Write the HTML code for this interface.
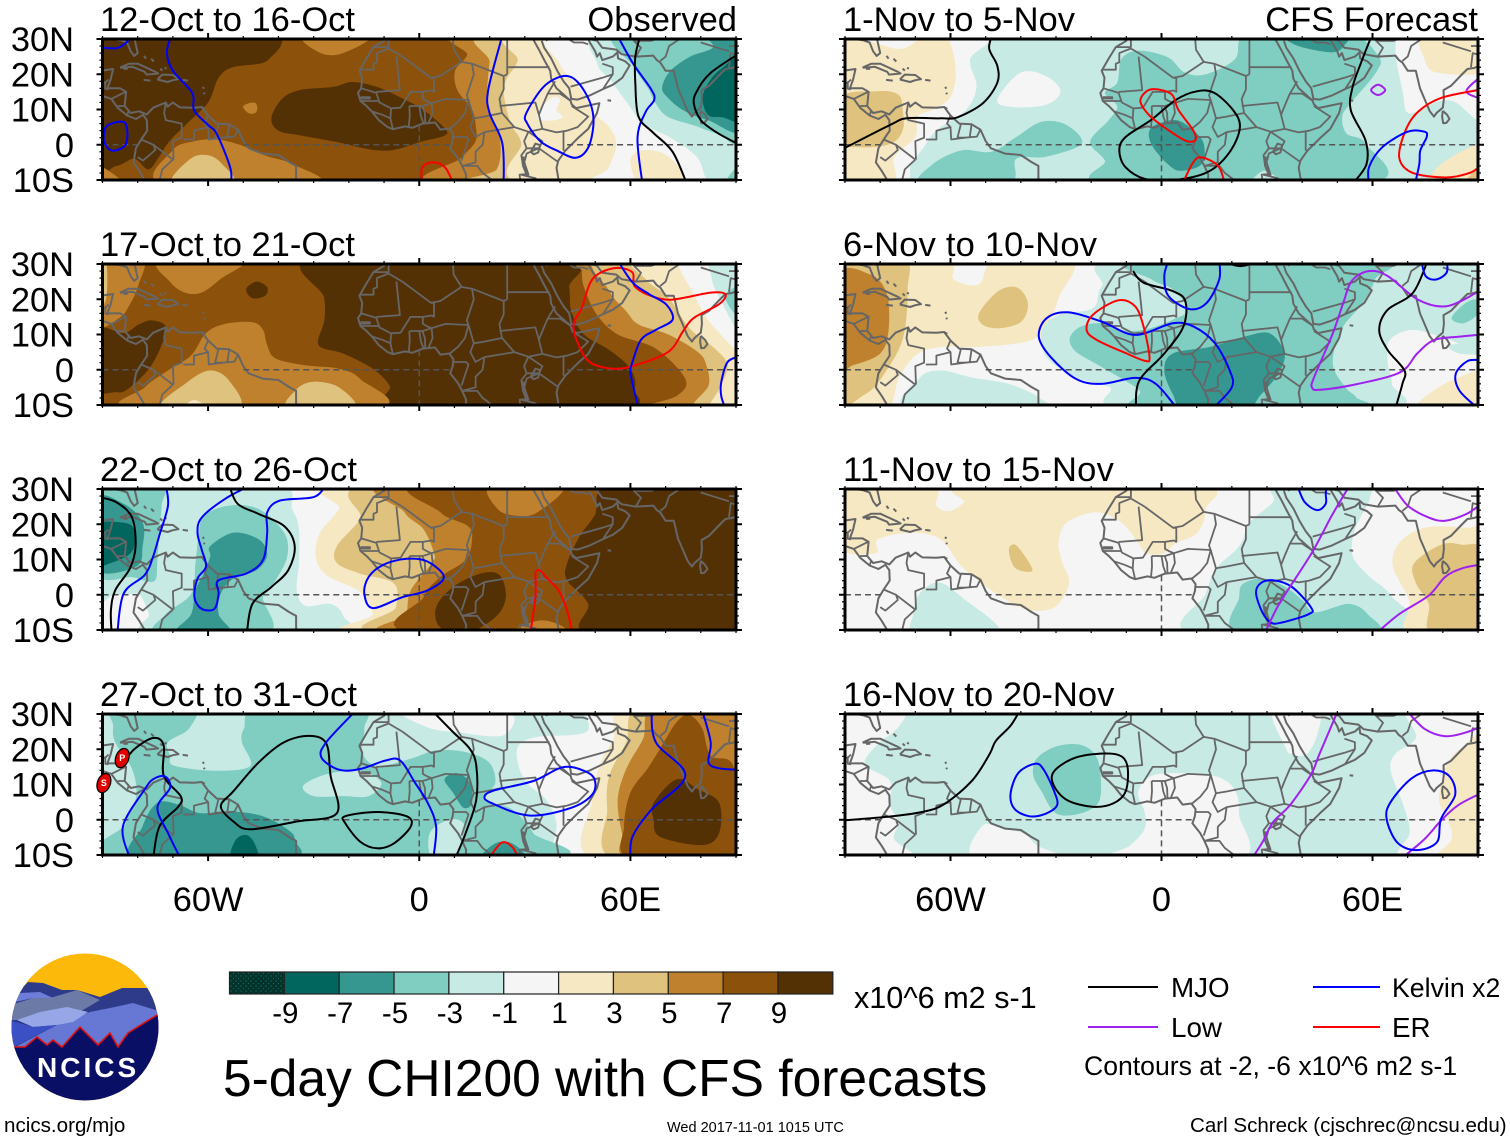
<!DOCTYPE html>
<html lang="en">
<head>
<meta charset="utf-8">
<title>5-day CHI200 with CFS forecasts</title>
<style>
html,body{margin:0;padding:0;background:#fff}
svg{display:block}
text{font-family:"Liberation Sans",sans-serif;fill:#000}
</style>
</head>
<body>
<svg id="chart" xmlns="http://www.w3.org/2000/svg" width="1510" height="1142" viewBox="0 0 1510 1142">
<defs>
<pattern id="stipple" width="5" height="5" patternUnits="userSpaceOnUse"><rect width="5" height="5" fill="#01332b"/><circle cx="1" cy="1" r="0.6" fill="#1c7f70"/><circle cx="3.5" cy="3.5" r="0.5" fill="#1c7f70"/></pattern>
<clipPath id="logo-clip"><circle cx="85" cy="1027" r="73.5"/></clipPath>
</defs>
<rect width="1510" height="1142" fill="#fff"/>
<g id="panels"></g>
<g id="colorbar"></g>
<text x="854" y="1008" font-size="30.6">x10^6 m2 s-1</text>
<text x="223" y="1096" font-size="51.5">5-day CHI200 with CFS forecasts</text>
<g id="legend"></g>
<text x="1084" y="1075" font-size="26.6">Contours at -2, -6 x10^6 m2 s-1</text>
<text x="4" y="1132" font-size="20.6">ncics.org/mjo</text>
<text x="667" y="1132" font-size="14.5">Wed 2017-11-01 1015 UTC</text>
<text x="1190" y="1132" font-size="20.55">Carl Schreck (cjschrec@ncsu.edu)</text>
<g clip-path="url(#logo-clip)">
<rect x="10" y="950" width="150" height="155" fill="#fdb90a"/>
<polygon fill="#2e3a8a" points="28,982 43,983 62,990 77,990 100,997 122,988 148,988 162,1007 162,1080 8,1080 8,1007 18,992"/>
<polygon fill="#6b7aa6" points="11,1005 33,998 50,998 77,990 100,1000 83,1010 50,1020 8,1020"/>
<polygon fill="#6d7dd8" points="20,993 40,992 53,998 33,998 15,1002"/>
<polygon fill="#6677d4" points="15,1047 57,1025 90,1012 110,1008 133,1003 162,1012 162,1060 15,1060"/>
<polygon fill="#97a6e6" points="17,1020 40,1012 67,1007 88,1012 73,1022 57,1025 33,1027"/>
<polygon fill="#3b50c4" points="8,1020 33,1027 57,1025 37,1035 13,1047 8,1040"/>
<polygon fill="#0a0f66" stroke="#e01010" stroke-width="1.6" points="5,1047 13,1047 25,1047 37,1037 47,1045 53,1040 62,1047 80,1027 98,1045 110,1033 118,1047 128,1033 157,1015 170,1005 170,1110 5,1110"/>
<text x="37" y="1077" font-size="28" font-weight="bold" letter-spacing="3" style="fill:#fff">NCICS</text>
</g>
</svg>
<script>
const levelColors = ['#01332b','#01665e','#35978f','#80cdc1','#c7eae5','#f5f5f5','#f6e8c3','#dfc27d','#bf812d','#8c510a','#543005'];
const colorbarLabels = ['-9','-7','-5','-3','-1','1','3','5','7','9'];
const panelTitles = ['12-Oct to 16-Oct','17-Oct to 21-Oct','22-Oct to 26-Oct','27-Oct to 31-Oct','1-Nov to 5-Nov','6-Nov to 10-Nov','11-Nov to 15-Nov','16-Nov to 20-Nov'];
const latTicks = [30,20,10,0,-10];
const latTickLabels = ['30N','20N','10N','0','10S'];
const lonTicks = [-60,0,60];
const lonTickLabels = ['60W','0','60E'];
const baseLevels = [9,9,5,4,4,5,5,4];
const legendNames = ['MJO','Kelvin x2','Low','ER'];
const waveColors = {M:'#000000',K:'#0000ff',L:'#a020f0',E:'#ff0000'};
const stormMarks = [['P',-84.4,17.5],['S',-89.6,10.4]];

/* Filled contours: [level, [[lon,lat],...]] */
const fillsP1 = [
[10,[[-92,32],[-43,32],[-43,24],[-53,22],[-57,19],[-60,12],[-66,6],[-71,1],[-74,-3.5],[-77,-7],[-81,-4],[-86,-6],[-92,-5]]],
[10,[[-42,7.6],[-39,13],[-34,15.5],[-24.5,16.4],[-19,17.8],[-12,16.4],[-5.5,13.5],[1,10],[7.4,4.5],[7,2.5],[1,1],[-10,-1.7],[-24.5,1],[-34,2.7],[-40,4]]],
[8,[[-73,-11],[-70,-1.5],[-64,1],[-57.5,1.5],[-51,0],[-44,-3],[-36,-5.5],[-29.5,-11]]],
[7,[[-70,-11],[-65,-4],[-60,-3],[-56,-5.5],[-53,-11]]],
[8,[[-33,31],[-28,26],[-21.6,26],[-14,31]]],
[8,[[-50,11],[-47,12],[-46,10.7],[-46.6,9],[-48.6,9]]],
[8,[[-91,-6],[-84,-11],[-91,-11]]],
[8,[[14,32],[13.6,25.5],[10.2,21],[10.8,15.5],[15,10],[16,5.6],[16,1],[12,-3.7],[6,-11],[92,-11],[92,32]]],
[7,[[21,32],[20,23.5],[19.3,15],[20,9.5],[23,1],[22,-7],[16,-11],[92,-11],[92,32]]],
[6,[[28,32],[28,24],[25,19],[24,14.7],[26,6],[29,0.4],[29.5,-11],[92,-11],[92,32]]],
[5,[[39,32],[40,23],[43,19],[47,14],[49.5,9],[54,5],[56,0],[53.7,-6.7],[50.6,-11],[92,-11],[92,32]]],
[5,[[33.5,8.5],[34.4,10.4],[38,13.5],[40,12.7],[39,9.8],[40.7,8],[38.7,7],[34.4,7]]],
[6,[[60,-4.5],[63,-1.7],[69,-2.3],[74,-6.6],[75,-11],[63,-11]]],
[4,[[51.5,32],[50.6,23],[54.3,18.4],[59,12],[63.7,6],[71.4,2],[79,-3.6],[82.7,-11],[92,-11],[92,32]]],
[3,[[56,32],[61,22],[65,16],[67,12],[70.5,8],[78,5.5],[85,3],[93,1],[93,32]]],
[3,[[87,-11],[91,-6],[93,-11]]],
[2,[[81,32],[83.5,27.7],[77,25],[71.4,21],[69,16.3],[70.5,13.5],[75,9.8],[82,7],[93,4.7],[93,32]]],
[1,[[93,26],[86.4,22],[82.7,18.4],[80.5,13.5],[82,8.5],[86,7.8],[93,7.5]]]
];
const linesP1 = [
['K',0,[[-91,27.7],[-86,27.4],[-83,29.2],[-82,30.5]]],
['K',0,[[-70.5,31],[-71.7,26],[-70,21],[-64.5,14.7],[-64,9.8],[-60,5.6],[-57.5,3],[-53.7,-6.5],[-53.5,-11]]],
['K',1,[[-88.4,5.6],[-83.6,6.2],[-83.3,0.3],[-87,-1.7],[-89.3,0.3],[-89.6,3]]],
['K',0,[[23.6,31],[19.6,15.5],[20,9],[23.6,0.4],[24,-11]]],
['K',1,[[41,19.5],[45,17.8],[48.6,11.8],[49.5,6],[48,-0.8],[44.4,-3.7],[39.2,-1.7],[34.4,1],[30.7,6],[30.4,8.9],[35.3,16.4]]],
['K',0,[[56.3,31],[60.8,23],[65.7,16],[66.8,12.8],[64.3,9.3],[62,2],[63.4,-11]]],
['M',0,[[62.8,31],[61.4,25],[61.4,17.5],[62.3,8],[66.5,3.4],[72,-2],[76,-11]]],
['M',0,[[91,26],[82.7,20.3],[79,15.4],[78,11.8],[80,7],[84.7,3.4],[91,0]]],
['E',0,[[0.8,-11],[0.8,-6.5],[4,-5],[7.4,-6.5],[9.7,-11]]]
];
const fillsP2 = [
[10,[[-29.4,32],[-27,20.5],[-27,13.8],[-28.6,7],[-21.6,4.6],[-13.2,0.3],[-8.4,-4.5],[-5.4,-11],[56.4,-11],[61.2,-5.5],[60,0.3],[54,5.6],[46.8,10],[43.2,16.6],[42.6,23.4],[40.8,32]]],
[10,[[-92,11.3],[-84,10.4],[-79.8,12.8],[-76,14],[-72,12.3],[-73.2,7],[-76.8,0.3],[-82.8,-5.5],[-86.4,-6.4],[-92,-5]]],
[10,[[-49.2,22.9],[-46.2,25],[-43.2,23.4],[-43.8,21],[-47.4,20.3]]],
[8,[[-73.8,31],[-70.8,24.9],[-66.6,21.9],[-61.8,21.9],[-56.4,25.8],[-50.4,31]]],
[8,[[-92,32],[-78.6,32],[-79.8,24],[-82.2,18.6],[-85.2,14.7],[-92,12.8]]],
[7,[[-92,32],[-89,31],[-89,20],[-92,18]]],
[8,[[-81,-11],[-78,-5],[-71.4,-0.2],[-64.8,4.1],[-60.6,10.4],[-55.2,13],[-47.4,13.5],[-44.4,11.3],[-43.2,7],[-40.8,3.2],[-32.4,1.25],[-22.8,0.3],[-16.8,-2.6],[-12.6,-11]]],
[7,[[-73.2,-11],[-66,-3.6],[-59.4,-0.2],[-54,-3.1],[-51.6,-11]]],
[7,[[-37.2,-11],[-34.8,-5.5],[-30,-3.4],[-22.8,-5],[-18.6,-11]]],
[6,[[-67,-11],[-64,-8.6],[-60,-11]]],
[8,[[46.2,32],[46.2,28],[46.8,23.4],[50.4,15.7],[56.4,10],[67.2,6],[75.6,-2.6],[73.2,-7.4],[64.2,-11],[93,-11],[93,32]]],
[7,[[51.6,32],[54,22.4],[58.8,16.6],[62.4,12.8],[70.8,10],[79.2,5],[81.6,1.2],[82.2,-4.5],[78,-11],[93,-11],[93,32]]],
[6,[[61.2,32],[64.8,25.3],[70.8,20.5],[76.8,11.8],[84,6],[87.6,1.2],[85.2,-5.5],[82.8,-11],[93,-11],[93,32]]],
[5,[[74.4,32],[78,21.4],[84,11.8],[93,6],[93,32]]],
[4,[[82.8,32],[82.8,27.2],[85.2,20.5],[93,9],[93,32]]],
[3,[[93,24],[87,20.5],[93,13]]]
];
const linesP2 = [
['E',1,[[56.4,28.9],[60.6,27.6],[61.2,23.7],[66,20.9],[72,19.9],[82.8,21.9],[87,21.4],[85.2,18.6],[78,14.7],[75,11],[70.8,5.1],[61.2,1.2],[55.2,0.3],[49.2,1.7],[46.2,5.1],[43.8,12.3],[46.2,17.6],[48.6,24.7],[51.6,27.6]]],
['K',0,[[56.4,31],[60.6,24.8],[65.4,21.4],[70.2,18.5],[72,14.2],[67.2,11.3],[63,8.5],[60.6,2.2],[60,-0.7],[61.2,-6.4],[62.4,-11]]],
['K',0,[[91,3.7],[87.6,2.2],[85.8,-3.6],[85.8,-7.4],[87,-11]]]
];
const fillsP3 = [
[4,[[-92,32],[-42,32],[-36,24],[-34.2,18.6],[-34.2,9],[-34.8,1.2],[-32.4,-3.1],[-25.2,-2.6],[-21.6,-6],[-23.4,-11],[-75.6,-11],[-76.8,-5.5],[-79.2,-0.2],[-81.6,0.3],[-87,-0.2],[-92,-0.2]]],
[3,[[-92,32],[-73.2,32],[-73.2,25.3],[-73.8,18.6],[-74.4,10],[-75,4.1],[-78.6,4.1],[-81.6,5],[-92,6.5]]],
[2,[[-92,27],[-84,25.8],[-78.6,20.5],[-78.6,13.8],[-80.4,8],[-92,7.5]]],
[1,[[-92,19.5],[-84.6,20.5],[-81,18.6],[-81.6,12.3],[-87.6,9],[-92,9]]],
[3,[[-61.2,22.4],[-54,25.3],[-45.6,24.3],[-38.4,17.6],[-37.5,10.9],[-40.8,4.1],[-44.4,-0.7],[-43.2,-11],[-73.8,-11],[-72,-5.5],[-64.8,0.3],[-63.6,8.9],[-62.7,16.6]]],
[2,[[-59.4,13.8],[-52.8,17.6],[-45.6,15.7],[-43.2,11.3],[-46.2,7],[-52.8,4.6],[-56.4,0.3],[-57,-5.5],[-54,-11],[-69,-11],[-64.8,-5.5],[-63.6,1.25],[-61.2,6],[-59.4,10.9]]],
[6,[[-19.8,32],[-22.8,24.3],[-28.2,17.6],[-29.4,10.9],[-26.4,5.6],[-16.8,0.8],[-13.2,-5.5],[-15.6,-11],[93,-11],[93,32]]],
[7,[[-10.8,32],[-16.8,21.4],[-23.4,13.8],[-23.4,9],[-16.8,6],[-7.2,3.2],[-6.6,-3.6],[-9.6,-11],[93,-11],[93,32]]],
[8,[[-6,32],[-4.2,23.4],[1.2,18.6],[4.2,11.8],[3.6,9],[-2.4,1.25],[-3.6,-5.5],[-5.4,-11],[93,-11],[93,32]]],
[9,[[2.4,32],[6,23.4],[13.8,19.5],[15,15.7],[13.2,9.9],[6,5],[1.2,-0.7],[-0.6,-11],[93,-11],[93,32]]],
[8,[[20.4,31],[22.2,24.4],[27.6,22.4],[33.6,23.4],[40.8,31]]],
[8,[[26.4,-11],[33.6,-7.4],[39.6,-8.4],[41.4,-11]]],
[10,[[55.2,32],[49.8,22.4],[45.6,16.6],[42,8.9],[42,4.1],[48,-2.6],[48,-11],[87,-11],[92,-7],[93,32]]],
[10,[[4.8,-3.6],[9.6,2.2],[17.4,6],[22.8,5.6],[24.6,-0.7],[21.6,-6.4],[13.2,-11],[6,-9.3]]]
];
const linesP3 = [
['M',0,[[-91,27.7],[-86,26.2],[-81.6,21.9],[-80.6,13.8],[-82.2,7.5],[-86.4,1.25],[-87.6,-4.5],[-87.4,-11]]],
['K',0,[[-72,31],[-71.4,25.3],[-73.8,17],[-75.6,10.9],[-78,5.6],[-84,0.3],[-85.8,-11]]],
['K',0,[[-48,31],[-55.2,27.2],[-61.8,21.9],[-63,17.6],[-61.8,12.8],[-60.6,8],[-63,4.6],[-63.9,-0.7],[-61.8,-4],[-58.2,-4],[-57,0.3],[-57,4.1],[-49.2,6],[-44.4,9.9],[-43.2,17.6],[-43.2,23.4],[-39.6,26.7],[-30,27.7],[-26.6,31]]],
['M',0,[[-54,31],[-51.6,25.8],[-45.6,22.9],[-38.4,19.5],[-35.4,13.8],[-37.2,7],[-42,2.2],[-47.4,-2.6],[-49,-11]]],
['K',1,[[-14.4,5],[-10.2,8.5],[-3.6,10.2],[2.4,9.4],[7,5],[2.4,1.25],[-4.8,-0.7],[-13.2,-3.8],[-15.6,0.3]]],
['E',0,[[33,6.5],[34.2,7],[36,5],[39.6,1.25],[42,-4.5],[43.5,-11]]],
['E',0,[[33,6.5],[33,-0.7],[31.8,-9.3],[31.6,-11]]]
];
const fillsP4 = [
[5,[[-4.2,31],[2.4,26.2],[10.8,24.8],[24,24],[24.6,31]]],
[5,[[48,32],[47.4,24.9],[33.6,23.5],[28.2,21],[28.2,15.3],[31,10],[36,5.75],[39,-1],[38.4,-11],[50,-11],[60,32]]],
[3,[[-86.4,32],[-64.8,32],[-65.4,25.9],[-71.4,22],[-70.8,18.2],[-69.6,15.3],[-57.6,13.9],[-48,15.3],[-50.4,22],[-49.8,25.9],[-45.6,32],[-16.8,32],[-15.6,25.9],[-16.2,19.2],[-12,15.3],[-2.4,17.3],[4.8,19.7],[13.2,19.2],[19.8,16.3],[21.6,10.5],[18.6,5.75],[26.4,2.9],[32.4,-3.8],[34.8,-11],[-82.8,-11],[-83.4,-1],[-80.4,6.7],[-81.6,14.4],[-86.4,22],[-87,26.8]]],
[4,[[-33,9.6],[-26.4,12.9],[-16.8,13.9],[-10.8,10.5],[-14.4,6.7],[-21.6,6.7],[-30,6.7]]],
[4,[[3,-3.8],[8.4,0],[12.6,-1],[12,-5.8],[9.6,-11],[3.6,-11]]],
[2,[[-79.8,-11],[-78.6,-1.9],[-74.4,4.8],[-68.4,4.3],[-62.4,1.9],[-54,2.4],[-44.4,1],[-37.2,-2.9],[-35.4,-5.8],[-37.2,-11]]],
[1,[[-53.4,-11],[-52.2,-5.8],[-49.2,-4.3],[-46.8,-6.7],[-46.2,-11]]],
[2,[[7.2,11.5],[10.8,13.2],[14.4,10.5],[15,4.8],[12.6,3.4],[9.6,7.7]]],
[2,[[18,-11],[21.6,-6.7],[26.4,-6.7],[30,-11]]],
[6,[[58.8,32],[55.2,23],[51.6,16.3],[49.2,5.75],[49.2,-11],[93,-11],[93,32]]],
[7,[[63,32],[58.8,22],[54,12.5],[53.4,2.9],[55.2,-11],[93,-11],[93,32]]],
[8,[[67.2,32],[63.6,23],[58.8,14.4],[56.4,5.75],[57.6,-3.8],[60,-11],[93,-11],[93,32]]],
[9,[[68.4,20.1],[73.2,27.8],[76.8,29.7],[80.4,25.9],[82.8,18.2],[89.5,14.4],[89.5,-11],[60,-11],[58.2,-1.9],[60,7.7],[64.8,14.4]]],
[10,[[66.6,4.8],[73.2,11.5],[79.2,8.6],[85.2,4.8],[85.2,-3.8],[80.4,-7.2],[68.4,-4.8],[66.6,0]]]
];
const linesP4 = [
['M',0,[[-84.6,15.3],[-81,20],[-75.6,23.2],[-72.6,21.1],[-72.6,12.5],[-67.8,6.7],[-68.4,3.8],[-73.8,-1.9],[-75.6,-11]]],
['M',1,[[-31.2,23.8],[-26.4,21.6],[-25.2,12.5],[-23.4,1.9],[-34.8,-0.5],[-48,-2.7],[-52.8,-0.5],[-56.4,3.8],[-52.8,8.1],[-45.6,16.3],[-38.4,22]]],
['M',1,[[-21,1],[-12,2.2],[-3.6,1],[-2.4,-1.9],[-7.2,-6.7],[-12,-8.1],[-16.8,-6.2],[-21,-1]]],
['M',0,[[3.6,31],[9.6,24.9],[14.4,20.1],[16.2,15.3],[16.2,5.75],[13.2,-3.8],[10.2,-11]]],
['K',0,[[-18,31],[-26.4,22],[-27.8,17.7],[-22.8,14.2],[-16.8,14.4],[-9.6,16.8],[-5.4,16.8],[-1.2,10.5],[2.4,4.8],[4.8,-1.9],[4,-11]]],
['K',0,[[-82.2,-11],[-84.2,-1.9],[-78,8.6],[-75.6,11.5],[-72.3,12.3],[-70.8,9.1],[-74.4,3.4],[-71.4,-3.8],[-67.8,-11]]],
['K',1,[[18.6,6.7],[21.6,8.4],[32.4,11],[40.8,14.9],[46.8,13.9],[49.8,11.5],[49.2,7.2],[43.2,3.4],[31.2,1.2],[20.4,4.8]]],
['K',0,[[66,31],[67.2,22],[75.6,12.5],[66,2.9],[60.6,-4.8],[60,-11]]],
['K',0,[[80.4,31],[82.8,22],[82.2,16.3],[85.2,14.6],[91,14.2]]],
['E',0,[[19.8,-11],[23.4,-6.5],[26.4,-7.7],[28.2,-11]]]
];
const fillsP5 = [
[5,[[-49.6,32],[-54.4,24.3],[-52.6,16.6],[-55.6,9.9],[-64,4.1],[-67.6,-0.7],[-71.2,-5.5],[-73.6,-11],[-92,-11],[-92,32]]],
[5,[[-46.7,12.8],[-40,20.5],[-32.9,19.5],[-28.7,15.2],[-32.9,11.3],[-42.5,10.7]]],
[6,[[-92,27.5],[-74.2,27.2],[-67.6,31],[-61.4,31],[-58.6,22.4],[-59.8,13.8],[-65.2,9.9],[-69.4,8],[-70,2.2],[-76,-3.6],[-76.5,-11],[-92,-11]]],
[7,[[-92,13.3],[-80.7,15.2],[-74.8,14.2],[-73.6,9.9],[-73.6,4.1],[-77,0.3],[-85.5,-0.7],[-92,1.25]]],
[3,[[-12.6,17.6],[-11.4,24.3],[-6.6,26.7],[1.8,24.8],[6.6,20.5],[12.6,20],[20.9,24.3],[25.1,32],[52,32],[61.6,25.3],[61,20.5],[53.8,11.8],[51.4,8],[52.6,3.2],[58,0.3],[59.2,-11],[-15,-11],[-16.1,-4.5],[-20.3,0.8],[-15,7],[-12.6,10.9],[-16.1,14.7]]],
[4,[[25.7,-11],[29.3,-7.4],[34,-11]]],
[2,[[-3.6,3.2],[-1.8,5.6],[4.2,7],[9,4.1],[12,0.3],[11.4,-5.5],[5.4,-7.4],[1.8,-5.5],[-2.4,-0.7]]],
[2,[[36.5,31],[38.3,28.2],[48.4,26.2],[52,28.2],[52,31]]],
[3,[[-68,-11],[-65,-5.5],[-56.8,-1.6],[-48.4,-2],[-41.3,2.2],[-34.1,6.5],[-27,5.6],[-22.7,0.3],[-32.9,-3.4],[-41.3,-4],[-43.7,-11]]],
[5,[[68.2,32],[68.8,13.8],[70.6,8.9],[77.2,11.8],[83.1,12.3],[92,7.5],[92,32]]],
[6,[[74.2,32],[74.8,24.3],[78.3,20.5],[92,21],[92,32]]],
[6,[[77.2,-11],[79.5,-5.5],[91,-0.2],[92,-11]]],
[7,[[86,-11],[91,-6.4],[92,-11]]]
];
const linesP5 = [
['M',0,[[-48.2,31],[-49,27.2],[-46.7,22.4],[-46.7,17.6],[-50.8,11.8],[-58,7.8],[-62.8,7.5],[-72.4,7.5],[-77.2,5.6],[-91,-1.4]]],
['M',1,[[10.2,15.2],[15,14.7],[20.3,9.9],[22.3,5.1],[19.7,-1.6],[13.8,-7.4],[5.4,-9.8],[-4.2,-9.8],[-10.2,-6.4],[-12,-1.6],[-10.2,2.2],[-3,7],[4.2,12.8]]],
['E',1,[[-1.2,15.7],[3,14.2],[4.8,9.9],[9,4.1],[9.6,1.25],[6.6,1.25],[0.6,5.1],[-3.6,8.5],[-6,12.3],[-4.2,15.2]]],
['E',0,[[6,-11],[9,-5],[11.4,-3.6],[16.1,-6],[18,-11]]],
['M',0,[[59.8,31],[56.8,23.4],[54.4,16.6],[53.8,9.9],[58,1.25],[58.3,-5.5],[54.4,-11]]],
['L',1,[[59.6,15.5],[61.6,17],[63.6,15.5],[61.6,14.1]]],
['L',0,[[91,19.5],[86.7,15.2],[91,13]]],
['E',0,[[91,15.7],[79.5,13.3],[73,9.4],[69.4,4.1],[67.6,-3.6],[71.2,-7.9],[80.7,-9.3],[87.9,-7.9],[91,-5.5]]],
['K',0,[[59,-11],[59,-6.4],[62.8,-0.7],[70,3.7],[74.8,3.7],[75.4,2.2],[73.6,-1.6],[73.3,-5.5],[72.1,-11]]]
];
const fillsP6 = [
[6,[[-92,32],[-62,31],[-59,25.6],[-51.9,24.2],[-47,31],[-25.5,31],[-29,20.9],[-35,9.4],[-50.7,6.5],[-61.4,6.5],[-69.2,4.6],[-74.6,-2.1],[-78.2,-11],[-92,-11]]],
[7,[[-92,32],[-73.4,32],[-72.2,22.8],[-73.4,9.4],[-78.2,-0.2],[-84.2,-6.9],[-92,-6.9]]],
[7,[[-51.9,16],[-46.4,22.3],[-41,23.3],[-38,18.9],[-39.8,13.7],[-45.9,11.8],[-50.7,12.7]]],
[8,[[-92,26.6],[-83,27.1],[-78.2,21.8],[-77.6,11.3],[-80,4.6],[-87.8,1.25],[-92,0.8]]],
[4,[[-8.7,32],[-17,23.7],[-19.5,17.5],[-29,15.6],[-33.9,11.3],[-32.7,3.6],[-24.3,-2.1],[-14.7,-5],[-9.9,-11],[63.7,-11],[65.5,-4],[64.3,2.2],[64.9,8.4],[71.5,11.3],[81,8.9],[92,6.5],[92,32]]],
[4,[[-72.2,-11],[-68.6,-2.1],[-62.6,-0.2],[-54.3,-2.1],[-43.5,-4],[-35,-7.8],[-35,-11]]],
[4,[[81.8,7],[92,7],[92,4.6],[84.7,4.6]]],
[3,[[-26.1,8.9],[-23.1,12.2],[-17.1,13.2],[-12.3,11.3],[-5.1,11.3],[3.2,14.2],[7.4,17],[3.2,22.8],[-2.8,25.6],[-7.5,31],[60.7,31],[60.7,25.6],[57.1,18.8],[51.1,11.3],[48.7,1.7],[52.3,-5],[55.3,-7.8],[55.3,-11],[-5.1,-11],[-6.3,-5.9],[-17.1,0.8],[-24.3,5.1]]],
[3,[[82.5,14.6],[85.9,18.5],[89.5,19.9],[90,16],[85.9,13.2]]],
[2,[[0.8,-0.2],[3.2,4.6],[14,6.5],[23.6,9.4],[30.8,10.3],[35,4.6],[33.2,-1.1],[28.4,-6.9],[23.6,-11],[6.8,-11],[3.2,-6.9]]],
[6,[[73.3,-11],[78.7,-5],[89.5,-0.2],[92,-0.2],[92,-11]]]
];
const linesP6 = [
['K',0,[[4.4,-11],[-1.6,-4],[-7.5,-2.3],[-17.1,-4],[-24.3,-2.6],[-31.5,3.6],[-34.9,9.4],[-32.7,14.6],[-26.7,16.3],[-17.1,13.7],[-7.5,9.9],[3.2,13.2],[9.2,12.2],[15.2,7.5],[19.4,-0.2],[20,-5],[14.6,-11]]],
['E',1,[[-12.3,19.7],[-7.5,18],[-5.1,12.2],[-3.4,3.6],[-4.6,2.5],[-9.9,4.6],[-18.3,8.4],[-21.3,11.3],[-19.5,15.6]]],
['M',0,[[-8.1,28],[-5.1,24.7],[3.2,22.3],[6.8,19.4],[6.2,12.2],[0.8,4.6],[-6.3,-3.1],[-7.3,-11]]],
['M',0,[[17,31],[22.4,29.4],[28.4,31]]],
['K',0,[[2,31],[0.8,26.6],[2,20.9],[8,17.2],[12.8,18.9],[16.4,25.6],[16.4,31]]],
['L',0,[[89.5,21.8],[81,18],[72.9,19.9],[64.3,26.6],[58.9,28],[54.1,25.2],[51.7,19],[48.7,10.3],[43.4,-2.1],[42.8,-5],[45.1,-5.7],[55.9,-4],[67.9,-0.7],[72.7,4.6],[77.5,8.4],[84.7,9.4],[91,10]]],
['M',0,[[75.7,31],[71.5,21.8],[64.3,17],[61.9,11.3],[64.3,5.6],[69.1,-0.2],[68.5,-4],[66.5,-11]]],
['K',0,[[73.9,31],[75.1,26.6],[78.1,25.6],[81.1,27.6],[81.1,31]]],
['K',0,[[91,2.7],[87.1,2.5],[83.7,-1.1],[84.7,-5.9],[89.5,-10.5]]]
];
const fillsP7 = [
[6,[[-92,32],[-65.8,31],[-64,25.3],[-60.4,23.7],[-56.2,26.3],[-54.7,31],[10.2,31],[12.6,24.3],[10.2,17.6],[4.2,14.7],[0.6,11.8],[-4.2,11.8],[-6.6,14.7],[-11.4,20.5],[-18.5,23.4],[-26.9,20.5],[-29.3,14.7],[-28.1,8.9],[-26.3,3.2],[-30.5,-3.6],[-38.9,-4],[-48.4,1.25],[-56.8,8],[-62.8,15.7],[-71.2,17.6],[-80.7,15.7],[-81.3,11.8],[-92,13.8]]],
[7,[[-43.4,12.8],[-41.3,14],[-37,8],[-37.6,6.5],[-41.8,7.8]]],
[4,[[-70.6,-5.5],[-68.8,0.3],[-63.4,3.5],[-56.8,-0.7],[-46,-11],[-69.4,-11]]],
[4,[[32.9,31],[31.7,26.3],[25.1,20.5],[22.1,13.8],[15.6,7.5],[12.6,0.3],[9,-11],[70,-11],[65.2,-0.2],[59.2,5.1],[54.4,10.9],[55,18.6],[59.2,27.2],[56.8,31]]],
[3,[[22.1,-0.7],[23.3,3.2],[29.3,4.6],[35.3,2.2],[40.1,-1.6],[43.7,-5],[53.2,-2.6],[58.6,-5.5],[59.8,-11],[22.1,-11]]],
[6,[[70,-11],[70.5,-2],[65.8,8],[67.6,14.7],[74.8,19],[86.7,19],[92,17.1],[92,-11]]],
[7,[[76.6,-11],[76,-2.6],[72.4,3.2],[71.8,8.9],[79.5,14.2],[85.5,14.2],[92,11.8],[92,-11]]]
];
const linesP7 = [
['K',0,[[38.6,31],[40.7,26.3],[44.3,24],[46.7,25.8],[46.7,28.7],[47,31]]],
['K',1,[[26.9,0.3],[28.1,3.2],[31.7,4.1],[37.1,2.2],[42.5,-3.6],[41.9,-5.5],[34.1,-7.9],[31.1,-7.9],[28.7,-5]]],
['L',0,[[53.5,31],[48.4,22.4],[43,12.3],[36.5,2.2],[32.9,-3.6],[29.3,-11]]],
['L',0,[[65.8,31],[70,25.3],[76,21.9],[80.7,21],[86.7,22.9],[91,25.8]]],
['L',0,[[61,-11],[67.6,-5.5],[76,-0.2],[80.7,5.1],[85.5,7.5],[91,8.6]]]
];
const fillsP8 = [
[5,[[-92,32],[-74.2,31],[-74.8,26.3],[-80.7,21.4],[-84.3,15.7],[-77.2,11],[-77.2,4.1],[-74.8,-0.7],[-76,-5.5],[-70.6,-11],[-92,-11]]],
[5,[[-53.2,-11],[-50.8,-1.6],[-44.9,-2.6],[-38.9,-4],[-35.3,-7.4],[-28.1,-11]]],
[5,[[-14.4,-11],[-9,-7.4],[-4.8,-2.6],[-4.8,2.2],[-6.6,8],[-1.8,12.8],[12.6,12.8],[18.5,10.9],[21.5,7],[22.1,1.25],[22.7,-11]]],
[5,[[31.7,31],[35.3,20.5],[37.1,18.6],[41.3,18.6],[44.3,24.3],[44.3,31]]],
[5,[[70,32],[72.4,23.4],[66.4,18.6],[65.2,13.8],[68.8,4.1],[70.6,-3.6],[68.2,-11],[92,-11],[92,32]]],
[6,[[78.3,-11],[82.5,-5.5],[81.3,0.3],[78.9,6],[81.3,15.7],[85.5,20.5],[92,22.4],[92,-11]]],
[3,[[-35.3,17.6],[-29.3,21],[-22.1,21],[-18,16.6],[-17.3,7],[-19.7,3.2],[-25.7,1.25],[-30.5,2.2],[-34.1,8],[-36.5,12.8]]]
];
const linesP8 = [
['M',0,[[-91,-0.2],[-78.3,0.8],[-68.1,2.2],[-61.5,4.6],[-53.7,11.3],[-48.9,18.6],[-47.1,22.4],[-42.9,26.7],[-40.3,31]]],
['K',1,[[-35.9,15.9],[-33.5,14.2],[-30.5,8],[-29.7,4.1],[-33,1.7],[-37.7,1],[-41.9,3.2],[-42.9,7.5],[-40.7,13.3]]],
['M',1,[[-16.1,18.8],[-11.4,18],[-9.6,14.7],[-10.2,8],[-13.8,4.6],[-19.7,3.7],[-26.9,5.6],[-30.7,9.9],[-30.5,13.8],[-24.5,17.6]]],
['L',0,[[50.2,31],[44.9,18.6],[42.5,12.8],[36.5,4.1],[31.7,-0.7],[28.7,-6.4],[25.7,-11]]],
['L',0,[[69.7,31],[74.8,25.8],[80.7,23.7],[86.7,24.8],[91,26.6]]],
['L',0,[[68.2,-11],[74.8,-5.5],[79.5,-0.2],[84.3,4.1],[91,7.6]]],
['K',1,[[77.3,14],[81.9,12.3],[83.5,7],[79.5,0.3],[78.3,-6.4],[72.4,-8.6],[67,-6.4],[64,0.3],[65.2,5.1],[71.2,11.8]]]
];

const panelFills = [fillsP1,fillsP2,fillsP3,fillsP4,fillsP5,fillsP6,fillsP7,fillsP8];
const panelLines = [linesP1,linesP2,linesP3,linesP4,linesP5,linesP6,linesP7,linesP8];

/* Coastlines and political borders as lon/lat polylines */
const coastlines = [
[[-92,29.5],[-89.5,30.3],[-85,29.7],[-83,29],[-82,26.5],[-81,25.2],[-80,26],[-81,30.5],[-81.3,32]],
[[-92,18.6],[-90.7,19.5],[-90.3,21],[-87,21.5],[-87.7,18.5],[-88.6,16],[-85,16],[-83.3,15],[-83.7,11],[-82,9],[-79.6,9.5],[-77.4,8.6],[-75.6,10.5],[-72,12],[-71.5,10.8],[-70,12],[-68,10.6],[-64,10.5],[-61.8,10.7],[-60,8.3],[-57.5,6],[-54,5.8],[-51.5,4.3],[-50,1],[-48.5,-1],[-44.5,-2.5],[-40,-2.9],[-37,-4.9],[-35,-6],[-35,-10],[-35.5,-11]],
[[-92,14.5],[-87.5,13],[-85.7,10.5],[-83,8.3],[-80.5,7.3],[-78.5,8.5],[-77.4,7],[-77.3,4],[-79,1.5],[-80.5,-1],[-81.2,-5],[-79.5,-7.5],[-78,-10],[-77,-11]],
[[-85,21.9],[-82.5,23],[-80,23],[-75,20.7],[-74.2,20.2],[-77.5,19.9],[-78,20.7],[-81.5,22.1],[-84,21.9],[-85,21.9]],
[[-74.4,18.5],[-73,19.9],[-70,19.8],[-68.4,18.6],[-70,18.3],[-71.5,17.8],[-74.4,18.5]],
[[-78.3,18.4],[-76.4,18.2]],[[-67.2,18.4],[-65.7,18.2]],
[[-78.2,25.2],[-77.6,24.4]],[[-76.2,24.4],[-75.4,23.6]],[[-73.6,21.6],[-73,21]],[[-72.4,21.8],[-71.8,21.6]],
[[-61.5,16.4],[-61.2,15.9]],[[-61.2,14.8],[-61,14.3]],[[-61.7,10.6],[-60.9,10.2]],[[-84,21.5],[-82.8,21.6]],
[[-9.5,31],[-10,29.5],[-13,27.7],[-15,24.5],[-17,21],[-16.2,19],[-16.5,16],[-17.4,14.7],[-16.7,12.4],[-15,11],[-13.5,9.5],[-11.5,7],[-9,5],[-7.5,4.4],[-4,5.2],[-2,4.8],[1,6],[4.5,6.3],[6,4.3],[8.5,4.6],[9.7,3],[9.5,1],[8.8,-1],[11,-3.8],[12.2,-6],[13.3,-8.5],[13.2,-11]],
[[32.5,31],[32.6,29.5],[34,27],[35.6,23.9],[37.2,21],[37.5,18.7],[39,16],[43,12.5],[43.3,11.5],[44.5,10.4],[51.2,11.8],[50.5,9],[48,4.5],[45,1.8],[41.5,-1.7],[39.5,-4.5],[39,-6.5],[39.6,-10],[40,-11]],
[[34.8,29.5],[35.5,27.5],[37.5,24.5],[39.2,21],[41,18],[42.6,16],[43.2,13],[45,12.8],[48.5,14],[52.2,15.8],[55,17],[57.7,19],[59.8,22.5],[58.5,23.7],[56.5,24.5],[56.3,26.2],[55,25],[52,24],[51.3,26],[50.5,25],[50,26.5],[48.5,29],[48,30],[48.5,31]],
[[48.5,30],[50.5,29.5],[52,27.5],[56,27],[57.5,25.7],[61.5,25],[66.5,25.3],[67.5,24],[68.5,23.3],[70,21],[72.3,21],[72.8,19],[73.5,16],[74.8,13],[76.3,9.5],[77.5,8],[78.2,9],[80,10.5],[80.3,13],[80.2,15.5],[82.3,16.7],[85,19.5],[87,21.5],[89,21.8],[91,22.7]],
[[80,9.6],[81.2,8.5],[81.9,7.3],[81,6.2],[80.1,6.1],[79.8,8],[80,9.6]],
[[53.5,12.6],[54.5,12.5]],
[[31.7,-2],[33,0.3],[34.3,-0.1],[33.8,-2.2],[32.5,-2.7],[31.7,-2]],
[[29.2,-3.3],[29.5,-6],[30.5,-8.5],[31,-8.5],[30,-5.5],[29.6,-3.3]]
];
const borderlines = [
[[-92,14.5],[-91,17],[-89,17.8],[-88.3,18.5]],[[-89.2,17.8],[-89.2,15.9],[-88.3,15.7]],[[-83.5,15],[-87.5,13]],[[-83.7,11],[-85.7,11]],[[-83,8.3],[-82.6,9.5]],
[[-72,12],[-72.5,9],[-72,7],[-67.5,6],[-67.5,2],[-70,1],[-69.8,-4.2]],[[-79,1.5],[-75.5,0],[-75,-1.5],[-78.5,-4.5],[-80,-3.5]],[[-75.5,0],[-70,-4.2]],[[-70,-4.2],[-73,-7],[-74,-11]],
[[-60,8.3],[-61,6],[-60,5],[-64,4],[-64,1.5],[-67,1.5]],[[-57,6],[-58,2],[-56,2]],[[-54,5.8],[-54.5,2.3]],[[-60,5],[-59.8,1.5],[-56,2],[-52.5,2.3],[-51.5,4.3]],
[[-13,27.7],[-8.7,27.7],[-8.7,31]],[[-17,21.3],[-13,21.3],[-13,23],[-12,23.4],[-12,26],[-8.7,27.3]],[[-4.8,25],[-8.7,27.3]],[[-6.5,25],[-5.5,15.5],[-12,15],[-12.2,14.7],[-16.5,16]],
[[-4.8,25],[3.3,19],[4.2,19],[4.2,15],[3.5,15.4],[1,15],[-2.5,15],[-5.3,10.5],[-8,10.3],[-11.3,12],[-12.2,14.7]],
[[9.5,31],[9.8,27],[12,23.5],[6,19.5],[3.3,19]],[[12,23.5],[15,23],[15.5,20],[13.5,14],[14,12.7],[7.5,13],[3.5,11.8],[2.3,12.3],[1,13],[1,15]],
[[25,31],[25,20]],[[15,23],[24,19.5],[25,20]],[[24,19.5],[24,15.7],[22.8,13],[23.5,9],[18.5,8],[15.5,7.5],[14,12.7]],[[25,22],[37,22]],
[[23.5,9],[27,5],[31,3.7],[35,4.5],[34,8.5],[33,12],[22.8,11]],[[38.6,18],[36.5,14.5],[35,11],[34,8.5]],[[36.5,14.5],[40,14.5],[43,12.5]],
[[43.3,11],[48,8],[45,5],[42,4],[39,3.5],[35,4.5]],[[41,4],[41,-1.7]],[[34,-1],[39.2,-4.7]],[[31,3.7],[35,1],[34,-1],[30.5,-1],[29.8,1],[31,3.7]],
[[30.5,-1],[29,-3],[29.5,-6],[30.7,-8.3],[28.5,-8.5],[28.8,-11]],[[27,5],[18.5,3.6],[18,0],[16,-2],[16,-5],[12.2,-6]],[[15.5,7.5],[14.5,5],[16,2.2],[18.5,3.6]],
[[14,12.7],[13,9],[11,6.5],[8.7,4.6]],[[3.5,11.8],[3.8,9],[2.7,6.4]],[[0.9,11],[1.6,9],[1.7,6.2]],[[0,11],[0.5,8],[1.2,6.1]],[[-2.8,11],[0,11],[1,11],[3.5,11.8]],[[-2.8,11],[-2.7,8],[-3,5]],
[[-8,10.3],[-8.2,7.5],[-7.5,4.4]],[[-13.5,9.5],[-10.5,8.5],[-8.2,7.5]],[[-16.7,13.5],[-14,13.5],[-14,13.1],[-16.7,13.1]],[[-16.7,12.4],[-11.3,12.4]],
[[9.8,2.2],[13.3,2.2],[14,1.5],[12,-4.5]],[[12.2,-6],[16.5,-6],[18,-8],[22,-11]],[[33.9,-1],[30.5,-2.5],[30,-4.5]],[[29,-8.5],[33,-9.5],[34.5,-11]],
[[43,16.5],[52,19],[55,20],[55,22],[52,23]],[[52.2,15.8],[53,17],[55,20]],[[36,29.5],[38,31]],[[39,32],[44,29],[46.5,29],[48,28.5]],
[[68.5,23.8],[70,25],[71,28],[74,30],[74.5,32]],[[88,22],[88.5,26],[92,25]],[[80,29],[88,26.5]],[[61.5,25],[63,27.5],[61,29.5],[61,31]],[[61,29.5],[66,29.5],[70,31]],[[88,28],[92,28]]
];
/* Dashed grid over ocean: equator spans in longitude, meridian span in latitude */
const equatorSpans = [[-90,-80],[-50,9],[42,90]];
const meridianSpan = [5.5,-10];

const NS = 'http://www.w3.org/2000/svg';
const LON_MIN = -90, LON_MAX = 90, LAT_MAX = 30, LAT_MIN = -10;
const PANEL_H = 141, ROW_STEP = 225;
const COL_LEFT = [102.5, 845];
const COL_WIDTH = [633.5, 633];

function make(tag, parent, attrs) {
  const el = document.createElementNS(NS, tag);
  for (const k in attrs) el.setAttribute(k, attrs[k]);
  parent.appendChild(el);
  return el;
}
function xScale(col) {
  return lon => COL_LEFT[col] + (lon - LON_MIN) / (LON_MAX - LON_MIN) * COL_WIDTH[col];
}
function yScale(row) {
  const top = 39 + row * ROW_STEP;
  return lat => top + (LAT_MAX - lat) / (LAT_MAX - LAT_MIN) * PANEL_H;
}
function smoothPath(pts, closed, x, y) {
  const P = pts.map(p => [x(p[0]), y(p[1])]);
  const n = P.length;
  const at = i => closed ? P[(i + n) % n] : P[Math.max(0, Math.min(n - 1, i))];
  let d = 'M' + P[0][0].toFixed(1) + ' ' + P[0][1].toFixed(1);
  const segs = closed ? n : n - 1;
  for (let i = 0; i < segs; i++) {
    const p0 = at(i - 1), p1 = at(i), p2 = at(i + 1), p3 = at(i + 2);
    const c1x = p1[0] + (p2[0] - p0[0]) / 6, c1y = p1[1] + (p2[1] - p0[1]) / 6;
    const c2x = p2[0] - (p3[0] - p1[0]) / 6, c2y = p2[1] - (p3[1] - p1[1]) / 6;
    d += 'C' + c1x.toFixed(1) + ' ' + c1y.toFixed(1) + ' ' + c2x.toFixed(1) + ' ' + c2y.toFixed(1) + ' ' + p2[0].toFixed(1) + ' ' + p2[1].toFixed(1);
  }
  return closed ? d + 'Z' : d;
}
function straightPath(pts, x, y) {
  return pts.map((p, i) => (i ? 'L' : 'M') + x(p[0]).toFixed(1) + ' ' + y(p[1]).toFixed(1)).join('');
}

function drawPanel(root, idx) {
  const col = idx < 4 ? 0 : 1, row = idx % 4;
  const x = xScale(col), y = yScale(row);
  const left = x(LON_MIN), right = x(LON_MAX), top = y(LAT_MAX), bottom = y(LAT_MIN);
  const g = make('g', root, {});
  
  
  const clip = make('clipPath', g, {id: 'clip-' + idx});
  make('rect', clip, {x: left, y: top, width: right - left, height: bottom - top});
  const body = make('g', g, {'clip-path': 'url(#clip-' + idx + ')'});
  const bg = make('rect', body, {x: left, y: top, width: right - left, height: bottom - top, fill: levelColors[baseLevels[idx]]});
  
  
  panelFills[idx].forEach(f => {
    const el = make('path', body, {d: smoothPath(f[1], true, x, y), fill: levelColors[f[0]]});
    
    
  });
  coastlines.forEach(c => {
    const el = make('path', body, {d: straightPath(c, x, y), fill: 'none', stroke: '#666', 'stroke-width': 2, 'stroke-linejoin': 'round'});
    
    
  });
  borderlines.forEach(c => {
    const el = make('path', body, {d: straightPath(c, x, y), fill: 'none', stroke: '#666', 'stroke-width': 1.8, 'stroke-linejoin': 'round'});
    
    
  });
  equatorSpans.forEach(s => {
    const el = make('line', body, {x1: x(s[0]), x2: x(s[1]), y1: y(0), y2: y(0), stroke: '#555', 'stroke-width': 1.5, 'stroke-dasharray': '6 4'});
    
    
  });
  const mer = make('line', body, {x1: x(0), x2: x(0), y1: y(meridianSpan[0]), y2: y(meridianSpan[1]), stroke: '#555', 'stroke-width': 1.5, 'stroke-dasharray': '6 4'});
  
  
  panelLines[idx].forEach(l => {
    const el = make('path', body, {d: smoothPath(l[2], !!l[1], x, y), fill: 'none', stroke: waveColors[l[0]], 'stroke-width': 2, 'stroke-linejoin': 'round'});
    
    
  });
  /* ticks */
  const ticks = make('g', g, {stroke: '#000', fill: 'none'});
  
  
  for (let lon = LON_MIN; lon <= LON_MAX; lon += 10) {
    const major = lonTicks.includes(lon);
    const len = major ? 6 : 3, w = major ? 2 : 1.2;
    make('line', ticks, {x1: x(lon), x2: x(lon), y1: top, y2: top - len, 'stroke-width': w});
    make('line', ticks, {x1: x(lon), x2: x(lon), y1: bottom, y2: bottom + len, 'stroke-width': w});
  }
  for (let lat = LAT_MIN; lat <= LAT_MAX; lat += 2) {
    const major = latTicks.includes(lat);
    const len = major ? 6 : 3, w = major ? 2 : 1.2;
    make('line', ticks, {x1: left, x2: left - len, y1: y(lat), y2: y(lat), 'stroke-width': w});
    make('line', ticks, {x1: right, x2: right + len, y1: y(lat), y2: y(lat), 'stroke-width': w});
  }
  const frame = make('rect', g, {x: left, y: top, width: right - left, height: bottom - top, fill: 'none', stroke: '#000', 'stroke-width': 3});
  
  
  /* labels */
  const title = make('text', g, {x: col ? 843 : 100, y: top - 8, 'font-size': 34.5});
  title.textContent = panelTitles[idx];
  title.setAttribute('letter-spacing', idx === 2 || idx === 3 ? 0.13 : idx === 5 || idx === 6 ? 0.2 : idx === 7 ? 0.07 : 0);
  
  
  if (col === 0) {
    latTicks.forEach((lat, i) => {
      const t = make('text', g, {x: 74, y: y(lat) + 12, 'font-size': 34.4, 'text-anchor': 'end'});
      t.textContent = latTickLabels[i];
      
      
    });
  }
  if (row === 3) {
    lonTicks.forEach((lon, i) => {
      const t = make('text', g, {x: x(lon), y: 911, 'font-size': 34.4, 'text-anchor': 'middle'});
      t.textContent = lonTickLabels[i];
      
      
    });
  }
  if (idx === 0 || idx === 4) {
    const n = make('text', g, {x: idx === 0 ? 737 : 1478, y: top - 8, 'font-size': 34.5, 'text-anchor': 'end'});
    n.textContent = idx === 0 ? 'Observed' : 'CFS Forecast';
    
    
  }
  if (idx === 3) {
    stormMarks.forEach(s => {
      const m = make('g', g, {});
      
      
      make('ellipse', m, {cx: x(s[1]), cy: y(s[2]), rx: 6.5, ry: 10, fill: '#e00000', stroke: '#000', 'stroke-width': 1.2, transform: 'rotate(20 ' + x(s[1]) + ' ' + y(s[2]) + ')'});
      const t = make('text', m, {x: x(s[1]), y: y(s[2]) + 3, 'font-size': 9, 'font-weight': 'bold', 'text-anchor': 'middle', style: 'fill:#fff'});
      t.textContent = s[0];
    });
  }
}

const panelRoot = document.getElementById('panels');
panelTitles.forEach((_, i) => drawPanel(panelRoot, i));

/* colour bar */
(function () {
  const root = document.getElementById('colorbar');
  const x0 = 229.5, boxW = 54.85, y0 = 972, h = 22;
  levelColors.forEach((c, i) => {
    const r = make('rect', root, {x: x0 + i * boxW, y: y0, width: boxW, height: h, fill: i === 0 ? 'url(#stipple)' : c, stroke: '#222', 'stroke-width': 1.2});
    
    
  });
  colorbarLabels.forEach((l, i) => {
    const t = make('text', root, {x: x0 + (i + 1) * boxW + 1, y: 1023, 'font-size': 29.5, 'text-anchor': 'middle'});
    t.textContent = l;
    
    
  });
})();

/* legend */
(function () {
  const root = document.getElementById('legend');
  const keys = ['M', 'K', 'L', 'E'];
  legendNames.forEach((name, i) => {
    const leftCol = i % 2 === 0, second = i > 1;
    const ly = second ? 1027 : 987;
    const g = make('g', root, {});
    
    
    make('line', g, {x1: leftCol ? 1088 : 1313, x2: leftCol ? 1158 : 1380, y1: ly, y2: ly, stroke: waveColors[keys[i]], 'stroke-width': 2});
    const t = make('text', g, {x: leftCol ? 1171 : 1392, y: ly + 10, 'font-size': i === 1 ? 26.7 : 27.8});
    t.textContent = name;
  });
})();
</script>
</body>
</html>
